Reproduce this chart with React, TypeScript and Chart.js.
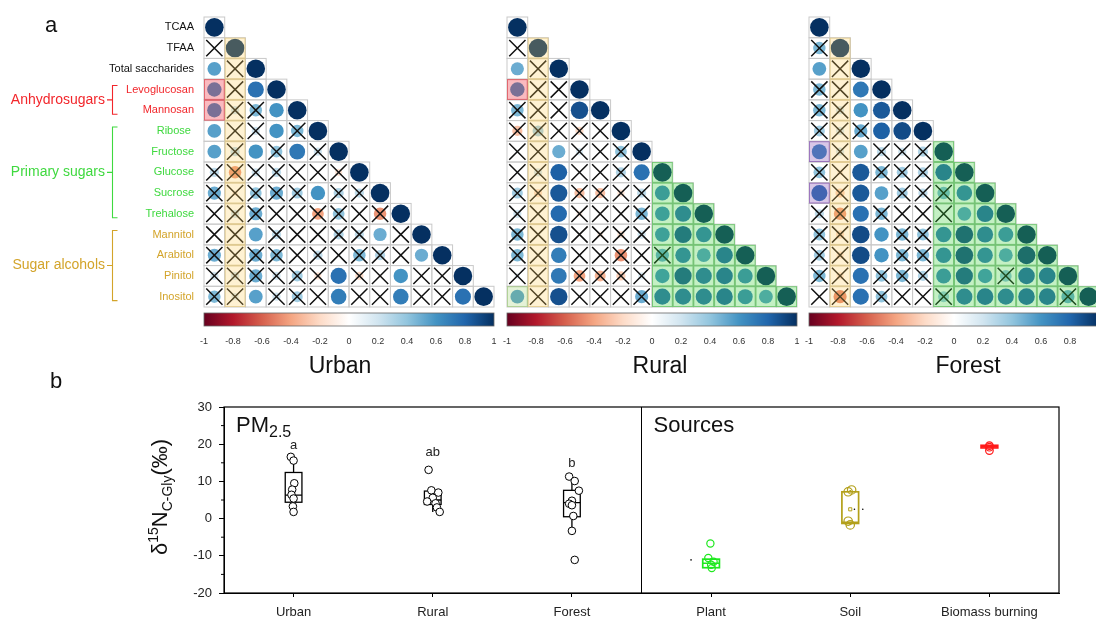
import React, { useEffect, useRef } from "react";
import { Chart, registerables } from "chart.js";

Chart.register(...registerables);

const FONT = 'Arial, "Liberation Sans", Helvetica, sans-serif';

// ---------------- Panel a: correlation matrices ----------------
const variables = [
  "TCAA", "TFAA", "Total saccharides", "Levoglucosan", "Mannosan", "Ribose ", "Fructose",
  "Glucose", "Sucrose", "Trehalose", "Mannitol", "Arabitol", "Pinitol", "Inositol",
];
const variableGroup = [0, 0, 0, 1, 1, 2, 2, 2, 2, 2, 3, 3, 3, 3];
const groupNames = ["", "Anhydrosugars", "Primary sugars", "Sugar alcohols"];
const groupColors = ["#111111", "#f2262b", "#3fd93f", "#d3a42a"];

const urbanR = [
  [1],
  [0.05, 1],
  [0.55, 0.05, 1],
  [0.6, 0.05, 0.75, 1],
  [0.6, 0.2, 0.45, 0.6, 1],
  [0.55, 0.05, 0.2, 0.6, 0.45, 1],
  [0.55, 0.25, 0.6, 0.4, 0.72, 0.2, 1],
  [0.25, -0.45, 0.2, 0.25, 0, 0, -0.15, 1],
  [0.5, -0.1, 0.4, 0.5, 0.35, 0.6, 0.3, 0.25, 1],
  [0, 0.2, 0.5, 0, 0, -0.4, 0.4, 0, -0.45, 1],
  [0, 0.05, 0.55, 0.25, 0, 0.05, 0.3, 0.25, 0.5, 0, 1],
  [0.5, 0, 0.5, 0.45, 0, 0.25, 0.05, 0.45, 0.3, 0, 0.5, 1],
  [0.2, 0.2, 0.5, 0.2, 0.35, -0.15, 0.75, -0.2, -0.05, 0.6, 0, 0, 1],
  [0.45, 0.15, 0.55, 0.2, 0.35, 0, 0.7, 0, 0, 0.7, 0, 0, 0.75, 1],
];
const urbanNS = [
  [0],
  [1, 0],
  [0, 1, 0],
  [0, 1, 0, 0],
  [0, 1, 1, 0, 0],
  [0, 1, 1, 0, 1, 0],
  [0, 1, 0, 1, 0, 1, 0],
  [1, 1, 1, 1, 1, 1, 1, 0],
  [1, 1, 1, 1, 1, 0, 1, 1, 0],
  [1, 1, 1, 1, 1, 1, 1, 1, 1, 0],
  [1, 1, 0, 1, 1, 1, 1, 1, 0, 1, 0],
  [1, 1, 1, 1, 1, 1, 1, 1, 1, 1, 0, 0],
  [1, 1, 1, 1, 1, 1, 0, 1, 1, 0, 1, 1, 0],
  [1, 1, 0, 1, 1, 1, 0, 1, 1, 0, 1, 1, 0, 0],
];

const ruralR = [
  [1],
  [0, 1],
  [0.5, 0, 1],
  [0.6, 0, 0, 1],
  [0.45, 0, 0, 0.88, 1],
  [-0.3, 0.35, 0, -0.2, 0, 1],
  [0.05, 0, 0.5, 0.15, 0, 0.4, 1],
  [0.05, 0.2, 0.82, 0, 0, 0.3, 0.75, 1],
  [0.35, -0.2, 0.85, -0.3, -0.3, -0.15, 0.25, 0.65, 1],
  [0.2, 0, 0.78, -0.1, 0, 0, 0.45, 0.62, 0.75, 1],
  [0.45, 0, 0.88, -0.05, -0.1, -0.15, 0.2, 0.62, 0.85, 0.7, 1],
  [0.45, 0, 0.7, 0, 0, -0.45, 0, 0.5, 0.7, 0.55, 0.8, 1],
  [0.1, 0, 0.72, -0.4, -0.35, -0.25, 0.15, 0.6, 0.85, 0.75, 0.8, 0.65, 1],
  [0.55, 0, 0.88, 0, 0, 0, 0.5, 0.75, 0.75, 0.75, 0.8, 0.65, 0.55, 1],
];
const ruralNS = [
  [0],
  [1, 0],
  [0, 1, 0],
  [0, 1, 1, 0],
  [1, 1, 1, 0, 0],
  [1, 1, 1, 1, 1, 0],
  [1, 1, 0, 1, 1, 1, 0],
  [1, 1, 0, 1, 1, 1, 0, 0],
  [1, 1, 0, 1, 1, 1, 1, 0, 0],
  [1, 1, 0, 1, 1, 1, 1, 0, 0, 0],
  [1, 1, 0, 1, 1, 1, 1, 0, 0, 0, 0],
  [1, 1, 0, 1, 1, 1, 1, 1, 0, 0, 0, 0],
  [1, 1, 0, 1, 1, 1, 1, 0, 0, 0, 0, 0, 0],
  [0, 1, 0, 1, 1, 1, 1, 0, 0, 0, 0, 0, 0, 0],
];

const forestR = [
  [1],
  [0.45, 1],
  [0.55, 0, 1],
  [0.45, 0, 0.72, 1],
  [0.45, 0.2, 0.6, 0.85, 1],
  [0.35, 0.2, 0.5, 0.82, 0.9, 1],
  [0.65, 0.2, 0.55, 0.25, 0.2, 0.3, 1],
  [0.4, -0.1, 0.85, 0.45, 0.35, 0.3, 0.8, 1],
  [0.75, -0.25, 0.85, 0.55, 0.35, 0.25, 0.45, 0.7, 1],
  [0.25, -0.45, 0.75, 0.45, 0, 0, 0, 0.55, 0.8, 1],
  [0.4, -0.2, 0.9, 0.6, 0.45, 0.4, 0.7, 0.9, 0.75, 0.65, 1],
  [0.35, -0.15, 0.9, 0.6, 0.45, 0.45, 0.7, 0.9, 0.7, 0.55, 0.92, 1],
  [0.45, -0.15, 0.75, 0.4, 0.45, 0.3, 0.65, 0.85, 0.6, 0.4, 0.8, 0.8, 1],
  [0, -0.5, 0.75, 0.4, 0, 0, 0.35, 0.75, 0.8, 0.75, 0.8, 0.8, 0.5, 1],
];
const forestNS = [
  [0],
  [1, 0],
  [0, 1, 0],
  [1, 1, 0, 0],
  [1, 1, 0, 0, 0],
  [1, 1, 1, 0, 0, 0],
  [0, 1, 0, 1, 1, 1, 0],
  [1, 1, 0, 1, 1, 1, 0, 0],
  [0, 1, 0, 0, 1, 1, 1, 0, 0],
  [1, 1, 0, 1, 1, 1, 1, 0, 0, 0],
  [1, 1, 0, 0, 1, 1, 0, 0, 0, 0, 0],
  [1, 1, 0, 0, 1, 1, 0, 0, 0, 0, 0, 0],
  [1, 1, 0, 1, 1, 1, 0, 0, 0, 1, 0, 0, 0],
  [1, 1, 0, 1, 1, 1, 1, 0, 0, 0, 0, 0, 1, 0],
];

// highlighted cells [row, col]
const tfaaColumn = 1;
const urbanRedCells = [[3, 0], [4, 0]];
const ruralRedCells = [[3, 0]];
const ruralLimeCells = [[13, 0]];
const ruralGreenStart = 7;
const forestPurpleCells = [[6, 0], [8, 0]];
const forestGreenStart = 6;

const colorbarTicks = [-1, -0.8, -0.6, -0.4, -0.2, 0, 0.2, 0.4, 0.6, 0.8, 1];
const rdbuPalette = [
  "#67001F", "#B2182B", "#D6604D", "#F4A582", "#FDDBC7", "#FFFFFF",
  "#D1E5F0", "#92C5DE", "#4393C3", "#2166AC", "#053061",
];

const HL = {
  yellow: { fill: "rgba(255,206,93,0.27)", stroke: "rgba(226,196,120,0.55)" },
  red: { fill: "rgba(238,40,55,0.32)", stroke: "rgba(222,60,70,0.6)" },
  green: { fill: "rgba(60,205,60,0.30)", stroke: "rgba(70,185,70,0.5)" },
  lime: { fill: "rgba(150,205,100,0.26)", stroke: "rgba(150,200,110,0.5)" },
  purple: { fill: "rgba(125,70,175,0.30)", stroke: "rgba(125,70,175,0.55)" },
};

function hexToRgb(h: string) {
  const n = parseInt(h.slice(1), 16);
  return [(n >> 16) & 255, (n >> 8) & 255, n & 255];
}
function corrColor(v: number) {
  const t = ((Math.max(-1, Math.min(1, v)) + 1) / 2) * 10;
  const i = Math.min(9, Math.floor(t));
  const f = t - i;
  const a = hexToRgb(rdbuPalette[i]);
  const b = hexToRgb(rdbuPalette[i + 1]);
  const c = a.map((x, k) => Math.round(x + (b[k] - x) * f));
  return `rgb(${c[0]},${c[1]},${c[2]})`;
}

const yellowCells = variables.map((_, i) => [i, tfaaColumn]).filter(([i]) => i >= tfaaColumn);
function blockCells(start: number) {
  const out: number[][] = [];
  for (let i = start; i < variables.length; i++) for (let j = start; j <= i; j++) out.push([i, j]);
  return out;
}

const MATRIX_TOP = 17;
const MATRIX_H = 290;
const CANVAS_H = 380;
const LABEL_AXIS_W = 204;

type Highlight = { fill: string; stroke: string; cells: number[][] };
type MatrixSpec = {
  title: string;
  r: number[][];
  ns: number[][];
  left: number;
  width: number;
  padLeft: number;
  padRight: number;
  showLabels: boolean;
  titleX: number;
  highlights: Highlight[];
};

const matrices: MatrixSpec[] = [
  {
    title: "Urban", r: urbanR, ns: urbanNS, left: 0, width: 500, padLeft: 0, padRight: 6,
    showLabels: true, titleX: 340,
    highlights: [
      { ...HL.yellow, cells: yellowCells },
      { ...HL.red, cells: urbanRedCells },
    ],
  },
  {
    title: "Rural", r: ruralR, ns: ruralNS, left: 501, width: 302, padLeft: 6, padRight: 6,
    showLabels: false, titleX: 660,
    highlights: [
      { ...HL.yellow, cells: yellowCells },
      { ...HL.red, cells: ruralRedCells },
      { ...HL.green, cells: blockCells(ruralGreenStart) },
      { ...HL.lime, cells: ruralLimeCells },
    ],
  },
  {
    title: "Forest", r: forestR, ns: forestNS, left: 803, width: 302, padLeft: 6, padRight: 6,
    showLabels: false, titleX: 968,
    highlights: [
      { ...HL.yellow, cells: yellowCells },
      { ...HL.purple, cells: forestPurpleCells },
      { ...HL.green, cells: blockCells(forestGreenStart) },
    ],
  },
];

function matrixPlugin(p: MatrixSpec) {
  const cellRect = (chart: any, i: number, j: number) => {
    const xs = chart.scales.x, ys = chart.scales.y;
    const x0 = xs.getPixelForValue(j - 0.5), x1 = xs.getPixelForValue(j + 0.5);
    const y0 = ys.getPixelForValue(i - 0.5), y1 = ys.getPixelForValue(i + 0.5);
    return [x0, y0, x1 - x0, y1 - y0];
  };
  return {
    id: "matrixDecor" + p.title,
    beforeDatasetsDraw(chart: any) {
      const ctx = chart.ctx;
      ctx.save();
      ctx.strokeStyle = "#c9c9c9";
      ctx.lineWidth = 1;
      p.r.forEach((row, i) =>
        row.forEach((_, j) => {
          const [x, y, w, h] = cellRect(chart, i, j);
          ctx.strokeRect(x, y, w, h);
        })
      );
      ctx.restore();
    },
    afterDatasetsDraw(chart: any) {
      const ctx = chart.ctx;
      ctx.save();
      p.highlights.forEach((hl) => {
        hl.cells.forEach(([i, j]) => {
          const [x, y, w, h] = cellRect(chart, i, j);
          ctx.fillStyle = hl.fill;
          ctx.fillRect(x, y, w, h);
          ctx.strokeStyle = hl.stroke;
          ctx.lineWidth = 1;
          ctx.strokeRect(x + 0.5, y + 0.5, w - 1, h - 1);
        });
      });
      ctx.restore();
    },
    afterDraw(chart: any) {
      const ctx = chart.ctx;
      const area = chart.chartArea;
      const cb = chart.scales.cbx;
      ctx.save();
      // colour bar
      const x0 = cb.getPixelForValue(-1), x1 = cb.getPixelForValue(1);
      const y0 = area.bottom + 6;
      const g = ctx.createLinearGradient(x0, 0, x1, 0);
      rdbuPalette.forEach((c, k) => g.addColorStop(k / (rdbuPalette.length - 1), c));
      ctx.fillStyle = g;
      ctx.fillRect(x0, y0, x1 - x0, 13);
      ctx.strokeStyle = "#666";
      ctx.lineWidth = 0.8;
      ctx.strokeRect(x0, y0, x1 - x0, 13);
      // title
      ctx.fillStyle = "#111";
      ctx.font = `23px ${FONT}`;
      ctx.textAlign = "center";
      ctx.textBaseline = "alphabetic";
      ctx.fillText(p.title, p.titleX - p.left, 373);
      if (p.showLabels) {
        const ys = chart.scales.y;
        for (let gi = 1; gi < groupNames.length; gi++) {
          const rows = variableGroup.map((v, k) => (v === gi ? k : -1)).filter((k) => k >= 0);
          const yTop = ys.getPixelForValue(rows[0]) - 4;
          const yBot = ys.getPixelForValue(rows[rows.length - 1]) + 4;
          const mid = (yTop + yBot) / 2;
          ctx.strokeStyle = groupColors[gi];
          ctx.lineWidth = 1.1;
          ctx.beginPath();
          ctx.moveTo(117.5, yTop);
          ctx.lineTo(112.5, yTop);
          ctx.lineTo(112.5, yBot);
          ctx.lineTo(117.5, yBot);
          ctx.moveTo(112.5, mid);
          ctx.lineTo(107, mid);
          ctx.stroke();
          ctx.fillStyle = groupColors[gi];
          ctx.font = `14px ${FONT}`;
          ctx.textAlign = "right";
          ctx.textBaseline = "middle";
          ctx.fillText(groupNames[gi], 105, mid);
        }
        ctx.fillStyle = "#111";
        ctx.font = `22px ${FONT}`;
        ctx.textAlign = "center";
        ctx.textBaseline = "alphabetic";
        ctx.fillText("a", 51, 32);
      }
      ctx.restore();
    },
  };
}

function matrixConfig(p: MatrixSpec): any {
  const circles: any[] = [];
  p.r.forEach((row, i) => row.forEach((v, j) => circles.push({ x: j, y: i, v })));
  const crosses: any[] = [];
  p.ns.forEach((row, i) => row.forEach((f, j) => { if (f) crosses.push({ x: j, y: i }); }));
  const n = variables.length;
  const yScale: any = {
    type: "linear",
    display: p.showLabels,
    reverse: true,
    min: -0.5,
    max: n - 0.5,
    afterBuildTicks: (s: any) => { s.ticks = variables.map((_, i) => ({ value: i })); },
    grid: { display: false, drawTicks: false },
    border: { display: false },
    ticks: {
      padding: 10,
      autoSkip: false,
      font: { family: FONT, size: 11 },
      color: (c: any) => groupColors[variableGroup[c.tick ? c.tick.value : 0]],
      callback: (v: any) => variables[v],
    },
  };
  if (p.showLabels) yScale.afterFit = (s: any) => { s.width = LABEL_AXIS_W; };
  return {
    type: "scatter",
    data: {
      datasets: [
        {
          data: circles,
          order: 2,
          pointRadius: (c: any) => 9.3 * Math.sqrt(Math.abs(c.raw ? c.raw.v : 0)),
          pointBackgroundColor: (c: any) => corrColor(c.raw ? c.raw.v : 0),
          pointBorderWidth: 0,
        },
        {
          data: crosses,
          order: 1,
          pointStyle: "crossRot",
          pointRadius: 11.5,
          pointBorderColor: "#111",
          pointBorderWidth: 1.5,
        },
      ],
    },
    options: {
      responsive: false,
      animation: false,
      events: [],
      devicePixelRatio: 1,
      layout: {
        autoPadding: false,
        padding: { left: p.padLeft, right: p.padRight, top: MATRIX_TOP, bottom: 0 },
      },
      plugins: { legend: { display: false }, tooltip: { enabled: false } },
      scales: {
        x: { type: "linear", display: false, min: -0.5, max: n - 0.5 },
        y: yScale,
        cbx: {
          type: "linear",
          axis: "x",
          position: "bottom",
          min: -1,
          max: 1,
          afterBuildTicks: (s: any) => { s.ticks = colorbarTicks.map((v) => ({ value: v })); },
          afterFit: (s: any) => {
            s.height = CANVAS_H - MATRIX_TOP - MATRIX_H;
            s.paddingLeft = 0;
            s.paddingRight = 0;
          },
          grid: { display: true, drawOnChartArea: false, drawTicks: true, tickLength: 27, color: "rgba(0,0,0,0)" },
          border: { display: false },
          ticks: {
            padding: 2,
            autoSkip: false,
            maxRotation: 0,
            font: { family: FONT, size: 9 },
            color: "#333",
            callback: (v: any) => String(v),
          },
        },
      },
    },
    plugins: [matrixPlugin(p)],
  };
}

// ---------------- Panel b: box plots ----------------
const boxCategories = ["Urban", "Rural", "Forest", "Plant", "Soil", "Biomass burning"];
const urbanD15N = [16.6, 15.6, 9.5, 7.8, 6.4, 5.4, 3.3, 1.8];
const urbanJitter = [-0.02, 0.0, 0.005, -0.01, -0.015, 0.0, -0.005, 0.0];
const ruralD15N = [13.1, 7.6, 7.0, 5.6, 4.6, 4.1, 3.0, 1.8];
const ruralJitter = [-0.03, -0.01, 0.04, 0.0, -0.04, 0.02, 0.03, 0.05];
const forestD15N = [11.3, 10.1, 7.5, 4.8, 4.0, 3.6, 0.7, -3.3, -11.1];
const forestJitter = [-0.02, 0.02, 0.05, 0.0, -0.02, 0.0, 0.01, 0.0, 0.02];
const plantD15N = [-6.7, -10.6, -11.6, -12.4, -13.3];
const plantJitter = [-0.005, -0.02, 0.018, 0.0, 0.005];
const soilD15N = [7.7, 7.2, -0.7, -1.7];
const soilJitter = [0.01, -0.015, -0.015, 0.0];
const biomassD15N = [19.6, 19.2, 18.3];
const biomassJitter = [0, 0, 0];

const boxQ1 = [4.4, 3.8, 0.5, -13.2, -1.3, 19.0];
const boxMedian = [6.3, 5.0, 4.3, -12.0, -1.0, 19.4];
const boxQ3 = [12.4, 7.4, 7.6, -10.9, 7.2, 19.7];
const whiskerLow = [1.8, 1.8, -3.3, -13.3, -1.7, 18.9];
const whiskerHigh = [15.0, 7.8, 10.3, -10.6, 7.7, 19.7];

const soilMean = [{ x: 4, y: 2.5 }];
const meanDotX = [2.856, 4.03, 4.09];
const meanDotY = [-11.1, 2.5, 2.5];

const letterLabels = ["a", "ab", "b"];
const letterY = [19.8, 17.7, 14.9];
const yMinorTicks = [-15, -5, 5, 15, 25];

const plantColor = "#1fe81f";
const soilColor = "#b3a01a";
const biomassColor = "#ff1a1a";
const boxColors = ["#000", "#000", "#000", plantColor, soilColor, biomassColor];
const BOX_HALF = 0.06;

const boxPlugin = {
  id: "boxDecor",
  beforeDatasetsDraw(chart: any) {
    const ctx = chart.ctx;
    const xs = chart.scales.x, ys = chart.scales.y;
    ctx.save();
    boxCategories.forEach((_, i) => {
      const cx = xs.getPixelForValue(i);
      const hw = xs.getPixelForValue(i + BOX_HALF) - cx;
      const yq1 = ys.getPixelForValue(boxQ1[i]);
      const yq3 = ys.getPixelForValue(boxQ3[i]);
      const ym = ys.getPixelForValue(boxMedian[i]);
      ctx.strokeStyle = boxColors[i];
      ctx.lineWidth = i < 3 ? 1.3 : 1.7;
      ctx.beginPath();
      ctx.moveTo(cx, ys.getPixelForValue(whiskerHigh[i]));
      ctx.lineTo(cx, yq3);
      ctx.moveTo(cx, yq1);
      ctx.lineTo(cx, ys.getPixelForValue(whiskerLow[i]));
      ctx.moveTo(cx - hw, ym);
      ctx.lineTo(cx + hw, ym);
      ctx.stroke();
      ctx.strokeRect(cx - hw, yq3, 2 * hw, yq1 - yq3);
    });
    ctx.restore();
  },
  afterDraw(chart: any) {
    const ctx = chart.ctx;
    const a = chart.chartArea;
    const xs = chart.scales.x, ys = chart.scales.y;
    ctx.save();
    ctx.strokeStyle = "#000";
    ctx.lineWidth = 1.2;
    ctx.strokeRect(a.left, a.top, a.right - a.left, a.bottom - a.top);
    const dx = xs.getPixelForValue(2.5);
    ctx.beginPath();
    ctx.moveTo(dx, a.top);
    ctx.lineTo(dx, a.bottom);
    ctx.lineWidth = 1;
    ctx.stroke();
    ctx.beginPath();
    yMinorTicks.forEach((v) => {
      const y = ys.getPixelForValue(v);
      ctx.moveTo(a.left - 3, y);
      ctx.lineTo(a.left, y);
    });
    ctx.stroke();
    // significance letters
    ctx.fillStyle = "#222";
    ctx.font = `13px ${FONT}`;
    ctx.textAlign = "center";
    ctx.textBaseline = "middle";
    letterLabels.forEach((t, i) => ctx.fillText(t, xs.getPixelForValue(i), ys.getPixelForValue(letterY[i])));
    // panel titles
    ctx.textAlign = "left";
    ctx.textBaseline = "alphabetic";
    ctx.fillStyle = "#111";
    ctx.font = `22px ${FONT}`;
    ctx.fillText("PM", a.left + 12, a.top + 25);
    const pmW = ctx.measureText("PM").width;
    ctx.font = `16px ${FONT}`;
    ctx.fillText("2.5", a.left + 12 + pmW, a.top + 30);
    ctx.font = `22px ${FONT}`;
    ctx.fillText("Sources", dx + 12, a.top + 25);
    // y-axis title
    const parts = [
      { t: "\u03b4", s: 22, dy: 0 },
      { t: "15", s: 14, dy: -9 },
      { t: "N", s: 22, dy: 0 },
      { t: "C-Gly", s: 14, dy: 5 },
      { t: "(\u2030)", s: 22, dy: 0 },
    ];
    let total = 0;
    parts.forEach((p) => { ctx.font = `${p.s}px ${FONT}`; total += ctx.measureText(p.t).width; });
    ctx.translate(167, (a.top + a.bottom) / 2 - 3);
    ctx.rotate(-Math.PI / 2);
    let x = -total / 2;
    parts.forEach((p) => {
      ctx.font = `${p.s}px ${FONT}`;
      ctx.fillText(p.t, x, p.dy);
      x += ctx.measureText(p.t).width;
    });
    ctx.setTransform(1, 0, 0, 1, 0, 0);
    ctx.font = `22px ${FONT}`;
    ctx.textAlign = "center";
    ctx.fillText("b", 56, 16);
    ctx.restore();
  },
};

const toPts = (i: number, vals: number[], jit: number[]) => vals.map((v, k) => ({ x: i + jit[k], y: v }));

function boxConfig(): any {
  const pm = { pointRadius: 3.8, pointBackgroundColor: "#fff", pointBorderColor: "#000", pointBorderWidth: 1 };
  const src = (c: string, r: number) => ({
    pointRadius: r, pointBackgroundColor: "rgba(255,255,255,0)", pointBorderColor: c, pointBorderWidth: 1.2,
  });
  return {
    type: "scatter",
    data: {
      datasets: [
        { data: toPts(0, urbanD15N, urbanJitter), ...pm },
        { data: toPts(1, ruralD15N, ruralJitter), ...pm },
        { data: toPts(2, forestD15N, forestJitter), ...pm },
        { data: toPts(3, plantD15N, plantJitter), ...src(plantColor, 3.6) },
        { data: toPts(4, soilD15N, soilJitter), ...src(soilColor, 4.2) },
        { data: toPts(5, biomassD15N, biomassJitter), ...src(biomassColor, 3.8) },
        {
          data: soilMean, pointStyle: "rect", pointRadius: 2.2,
          pointBackgroundColor: "#fff", pointBorderColor: soilColor, pointBorderWidth: 1,
        },
        {
          data: meanDotX.map((x, k) => ({ x, y: meanDotY[k] })),
          pointRadius: 0.8, pointBackgroundColor: "#000", pointBorderWidth: 0,
        },
      ],
    },
    options: {
      responsive: false,
      animation: false,
      events: [],
      devicePixelRatio: 1,
      layout: { autoPadding: false, padding: { top: 35, right: 37, bottom: 0, left: 0 } },
      plugins: { legend: { display: false }, tooltip: { enabled: false } },
      scales: {
        x: {
          type: "linear",
          min: -0.5,
          max: boxCategories.length - 0.5,
          afterBuildTicks: (s: any) => { s.ticks = boxCategories.map((_, i) => ({ value: i })); },
          afterFit: (s: any) => { s.height = 28; },
          grid: { drawOnChartArea: false, tickLength: 4, color: "#000" },
          border: { display: true, color: "#000" },
          ticks: {
            padding: 8,
            autoSkip: false,
            maxRotation: 0,
            font: { family: FONT, size: 13 },
            color: "#222",
            callback: (v: any) => boxCategories[v] ?? "",
          },
        },
        y: {
          type: "linear",
          min: -20,
          max: 30,
          afterFit: (s: any) => { s.width = 224; },
          grid: { drawOnChartArea: false, tickLength: 5, color: "#000" },
          border: { display: true, color: "#000" },
          ticks: { stepSize: 10, padding: 7, font: { family: FONT, size: 13 }, color: "#222" },
        },
      },
    },
    plugins: [boxPlugin],
  };
}

function MatrixPanel({ spec }: { spec: MatrixSpec }) {
  const ref = useRef<HTMLCanvasElement>(null);
  useEffect(() => {
    const chart = new Chart(ref.current as HTMLCanvasElement, matrixConfig(spec));
    return () => chart.destroy();
  }, [spec]);
  return (
    <canvas
      ref={ref}
      width={spec.width}
      height={CANVAS_H}
      style={{ position: "absolute", left: spec.left, top: 0, width: spec.width, height: CANVAS_H }}
    />
  );
}

function BoxPanel() {
  const ref = useRef<HTMLCanvasElement>(null);
  useEffect(() => {
    const chart = new Chart(ref.current as HTMLCanvasElement, boxConfig());
    return () => chart.destroy();
  }, []);
  return (
    <canvas
      ref={ref}
      width={1096}
      height={249}
      style={{ position: "absolute", left: 0, top: 372, width: 1096, height: 249 }}
    />
  );
}

export default function App() {
  return (
    <div
      style={{
        position: "absolute", left: 0, top: 0, width: 1096, height: 621,
        overflow: "hidden", background: "#fff",
      }}
    >
      {matrices.map((m) => (
        <MatrixPanel key={m.title} spec={m} />
      ))}
      <BoxPanel />
    </div>
  );
}
